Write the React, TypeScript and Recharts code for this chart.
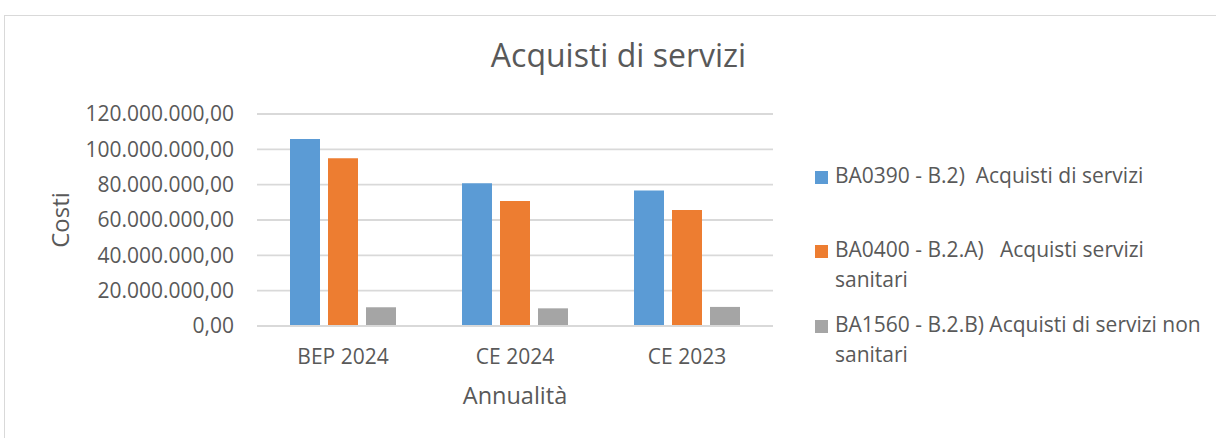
import { BarChart, Bar, XAxis, YAxis, CartesianGrid } from 'recharts'

// categories and series (in euro)
const years = ['BEP 2024', 'CE 2024', 'CE 2023']
const serviziTotali = [105800000, 80800000, 76700000]
const serviziSanitari = [95000000, 70800000, 65700000]
const serviziNonSanitari = [10600000, 10000000, 10800000]
const yTicks = [0, 20000000, 40000000, 60000000, 80000000, 100000000, 120000000]

const seriesNames = [
  'BA0390 - B.2)  Acquisti di servizi',
  'BA0400 - B.2.A)   Acquisti servizi sanitari',
  'BA1560 - B.2.B) Acquisti di servizi non sanitari',
]
const seriesColors = ['#5B9BD5', '#ED7D31', '#A5A5A5']

const data = years.map((year, i) => ({
  year,
  s0: serviziTotali[i],
  s1: serviziSanitari[i],
  s2: serviziNonSanitari[i],
}))

const FONT = '"Open Sans", "Liberation Sans", sans-serif'
const TEXT = '#595959'

// 120.000.000,00 style
function formatEuro(v: number) {
  const int = Math.round(v).toString().replace(/\B(?=(\d{3})+(?!\d))/g, '.')
  return int + ',00'
}

const legendTops = [160, 234, 309]

export default function App() {
  return (
    <div
      style={{
        position: 'absolute',
        left: 0,
        top: 0,
        width: 1216,
        height: 438,
        overflow: 'hidden',
        background: '#fff',
        fontFamily: FONT,
      }}
    >
      <div
        style={{
          position: 'absolute',
          left: 4,
          top: 15,
          width: 1300,
          height: 500,
          border: '1px solid #d9d9d9',
        }}
      />
      <div
        style={{
          position: 'absolute',
          left: 0,
          top: 39,
          width: 1237,
          textAlign: 'center',
          fontSize: 32,
          lineHeight: '32px',
          color: TEXT,
        }}
      >
        Acquisti di servizi
      </div>

      <div style={{ position: 'absolute', left: 0, top: 0 }}>
        <BarChart
          width={1216}
          height={438}
          data={data}
          margin={{ top: 114, right: 443, bottom: 0, left: 0 }}
          barSize={30}
          barGap={8}
        >
          <CartesianGrid vertical={false} stroke="#d9d9d9" strokeWidth={1.8} />
          <XAxis
            dataKey="year"
            height={112}
            axisLine={{ stroke: '#d9d9d9', strokeWidth: 1.8 }}
            tickLine={false}
            tickSize={0}
            tickMargin={23}
            tick={{ fill: TEXT, fontSize: 21, fontFamily: FONT }}
            label={{
              value: 'Annualità',
              position: 'insideTop',
              offset: 61,
              fill: TEXT,
              fontSize: 23.5,
              fontFamily: FONT,
            }}
          />
          <YAxis
            width={257}
            domain={[0, 120000000]}
            ticks={yTicks}
            axisLine={false}
            tickLine={false}
            tickSize={0}
            tickMargin={23}
            tickFormatter={formatEuro}
            tick={{ fill: TEXT, fontSize: 21, fontFamily: FONT }}
            label={{
              value: 'Costi',
              angle: -90,
              position: 'center',
              dx: -68,
              fill: TEXT,
              fontSize: 24,
              fontFamily: FONT,
            }}
          />
          <Bar dataKey="s0" name={seriesNames[0]} fill={seriesColors[0]} isAnimationActive={false} />
          <Bar dataKey="s1" name={seriesNames[1]} fill={seriesColors[1]} isAnimationActive={false} />
          <Bar dataKey="s2" name={seriesNames[2]} fill={seriesColors[2]} isAnimationActive={false} />
        </BarChart>
      </div>

      {seriesNames.map((name, i) => (
        <div
          key={name}
          style={{
            position: 'absolute',
            left: 815,
            top: legendTops[i],
            width: 400,
            fontSize: 21,
            lineHeight: '30px',
            color: TEXT,
          }}
        >
          <span
            style={{
              position: 'absolute',
              left: 0,
              top: 11,
              width: 13,
              height: 13,
              background: seriesColors[i],
            }}
          />
          <div style={{ marginLeft: 20, whiteSpace: 'pre-wrap' }}>{name}</div>
        </div>
      ))}
    </div>
  )
}
